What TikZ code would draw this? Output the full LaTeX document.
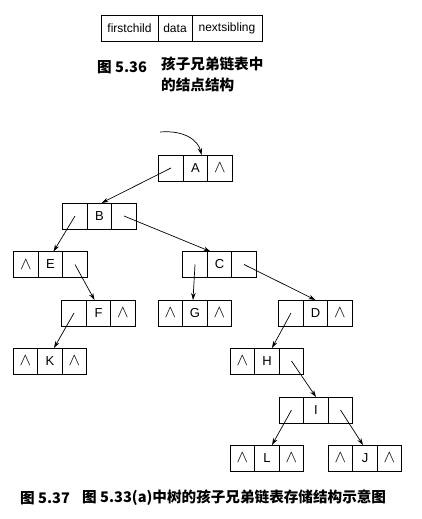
\documentclass[tikz,border=0pt]{standalone}
\usepackage{fontspec}
\setmainfont{Liberation Sans}
\newfontfamily\cjk{Noto Sans CJK SC}
\usetikzlibrary{positioning}
\usetikzlibrary{arrows.meta}
\tikzset{
    cell/.style = {rectangle, line width=0.8pt, draw=black, minimum width=24.5pt, minimum height=26pt, inner sep=0pt, outer sep=0pt, font=\fontsize{13}{13}\selectfont},
    field/.style = {cell, font=\fontsize{12}{12}\selectfont},
    link/.style = {-{Stealth[length=7pt,width=4.5pt]}, line width=0.7pt},
    caption/.style = {anchor=west, inner sep=0pt, font=\cjk\bfseries\fontsize{14.6}{21}\selectfont}
}
\newcommand{\nullptr}{\fontsize{17}{17}\selectfont$\wedge$}

\begin{document}
\begin{tikzpicture}[x=1pt,y=-1pt]
\path[use as bounding box] (0,0) rectangle (421,519);
%
% node structure
\node[field,minimum width=34pt] at (175,28) (data) {data};
\node[field,minimum width=57pt,left=0pt of data] (firstchild) {firstchild};
\node[field,minimum width=70pt,right=0pt of data] (nextsibling) {nextsibling};
\node[caption] at (97,67) (fig1num) {图 5.36};
\node[caption,anchor=north west,align=left] at (161,57) (fig1text) {孩子兄弟链表中\\的结点结构};
%
% tree
\node[cell] at (195.5,168) (a) {A};
\node[cell,left=0pt of a] (al) {};
\node[cell,right=0pt of a] (ar) {\nullptr};
\node[cell] at (99.5,216) (b) {B};
\node[cell,left=0pt of b] (bl) {};
\node[cell,right=0pt of b] (br) {};
\node[cell] at (50.5,264.5) (e) {E};
\node[cell,left=0pt of e] (el) {\nullptr};
\node[cell,right=0pt of e] (er) {};
\node[cell] at (219.5,264.5) (c) {C};
\node[cell,left=0pt of c] (cl) {};
\node[cell,right=0pt of c] (cr) {};
\node[cell] at (98.5,313) (f) {F};
\node[cell,left=0pt of f] (fl) {};
\node[cell,right=0pt of f] (fr) {\nullptr};
\node[cell] at (195,313) (g) {G};
\node[cell,left=0pt of g] (gl) {\nullptr};
\node[cell,right=0pt of g] (gr) {\nullptr};
\node[cell] at (315.5,313) (d) {D};
\node[cell,left=0pt of d] (dl) {};
\node[cell,right=0pt of d] (dr) {\nullptr};
\node[cell] at (50,361) (k) {K};
\node[cell,left=0pt of k] (kl) {\nullptr};
\node[cell,right=0pt of k] (kr) {\nullptr};
\node[cell] at (267,361) (h) {H};
\node[cell,left=0pt of h] (hl) {\nullptr};
\node[cell,right=0pt of h] (hr) {};
\node[cell] at (316,410) (i) {I};
\node[cell,left=0pt of i] (il) {};
\node[cell,right=0pt of i] (ir) {};
\node[cell] at (267,458) (l) {L};
\node[cell,left=0pt of l] (ll) {\nullptr};
\node[cell,right=0pt of l] (lr) {\nullptr};
\node[cell] at (365,458) (j) {J};
\node[cell,left=0pt of j] (jl) {\nullptr};
\node[cell,right=0pt of j] (jr) {\nullptr};
%
\coordinate (root) at (160,132);
\draw[link] (root) .. controls (184,130) and (198,140) .. ([xshift=6pt]a.north);
\draw[link] (al.center) -- ([xshift=2pt]b.north);
\draw[link] (bl.center) -- ([xshift=3pt]e.north);
\draw[link] (br.center) -- ([xshift=-9pt]c.north);
\draw[link] (er.center) -- ([xshift=-4pt]f.north);
\draw[link] (cl.center) -- ([xshift=-2pt]g.north);
\draw[link] (cr.center) -- (d.north);
\draw[link] (fl.center) -- ([xshift=4pt]k.north);
\draw[link] (dl.center) -- ([xshift=5pt]h.north);
\draw[link] (hr.center) -- (i.north);
\draw[link] (il.center) -- ([xshift=5pt]l.north);
\draw[link] (ir.center) -- ([xshift=-2pt]j.north);
%
\node[caption] at (20,498) (fig2num) {图 5.37};
\node[caption] at (82,498) (fig2text) {图 5.33(a)中树的孩子兄弟链表存储结构示意图};

\end{tikzpicture}
\end{document}
